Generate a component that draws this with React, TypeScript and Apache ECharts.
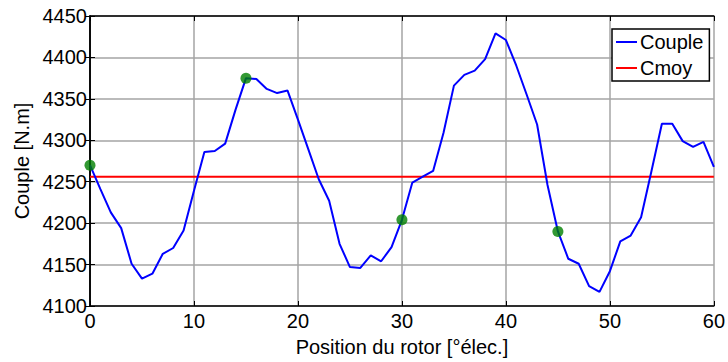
import React, { useEffect, useRef } from "react";
import * as echarts from "echarts";

const positions = [
  0, 1, 2, 3, 4, 5, 6, 7, 8, 9, 10, 11, 12, 13, 14, 15, 16, 17, 18, 19, 20,
  21, 22, 23, 24, 25, 26, 27, 28, 29, 30, 31, 32, 33, 34, 35, 36, 37, 38, 39, 40,
  41, 42, 43, 44, 45, 46, 47, 48, 49, 50, 51, 52, 53, 54, 55, 56, 57, 58, 59, 60,
];
const couple = [
  4270, 4241, 4213, 4194, 4151, 4133, 4139, 4163, 4170, 4191, 4239,
  4286, 4287, 4296, 4337, 4375, 4374, 4362, 4357, 4360, 4325,
  4289, 4253, 4227, 4175, 4147, 4146, 4161, 4154, 4171, 4204,
  4249, 4256, 4263, 4309, 4366, 4379, 4384, 4398, 4429, 4421,
  4390, 4355, 4319, 4246, 4190, 4157, 4151, 4124, 4117, 4142,
  4178, 4185, 4207, 4263, 4320, 4320, 4299, 4292, 4298, 4268,
];
const cmoyX = [0, 60];
const cmoyValue = 4256;
const markerX = [0, 15, 30, 45];
const markerY = [4270, 4375, 4204, 4190];

const FONT = "'Liberation Sans', Arial, sans-serif";

export default function App() {
  const ref = useRef<HTMLDivElement>(null);
  useEffect(() => {
    if (!ref.current) return;
    const chart = echarts.init(ref.current, undefined, { renderer: "svg" });
    const axisLine = { lineStyle: { color: "#000", width: 1.5 } };
    const tick = { show: true, inside: true, length: 5, lineStyle: { color: "#000", width: 1 } };
    const split = { show: true, lineStyle: { color: "#a4a4a4", width: 1.5 } };
    chart.setOption({
      animation: false,
      backgroundColor: "#fff",
      grid: { left: 90, right: 13, top: 16, bottom: 51, containLabel: false },
      legend: {
        orient: "vertical",
        left: 612,
        top: 29,
        padding: [3, 6, 3, 4],
        itemGap: 6,
        itemWidth: 21,
        itemHeight: 2,
        icon: "rect",
        borderColor: "#000",
        borderWidth: 1.5,
        backgroundColor: "#fff",
        data: ["Couple", "Cmoy"],
        textStyle: { fontFamily: FONT, fontSize: 20, color: "#000", padding: [0, 0, 0, -2], lineHeight: 20 },
      },
      xAxis: [
        {
          type: "value",
          min: 0,
          max: 60,
          interval: 10,
          name: "Position du rotor [°élec.]",
          nameLocation: "middle",
          nameGap: 31,
          nameTextStyle: { fontFamily: FONT, fontSize: 20, color: "#000" },
          axisLine,
          axisTick: tick,
          axisLabel: { fontFamily: FONT, fontSize: 20, color: "#000", margin: 5 },
          splitLine: split,
        },
        {
          type: "value",
          position: "top",
          min: 0,
          max: 60,
          interval: 10,
          axisLine,
          axisTick: tick,
          axisLabel: { show: false },
          splitLine: { show: false },
        },
      ],
      yAxis: [
        {
          type: "value",
          min: 4100,
          max: 4450,
          interval: 50,
          name: "Couple [N.m]",
          nameLocation: "middle",
          nameGap: 50,
          nameTextStyle: { fontFamily: FONT, fontSize: 20, color: "#000" },
          axisLine,
          axisTick: tick,
          axisLabel: { fontFamily: FONT, fontSize: 20, color: "#000", margin: 3, formatter: (v: number) => String(v) },
          splitLine: split,
        },
        {
          type: "value",
          position: "right",
          min: 4100,
          max: 4450,
          interval: 50,
          axisLine,
          axisTick: tick,
          axisLabel: { show: false },
          splitLine: { show: false },
        },
      ],
      series: [
        {
          name: "Couple",
          type: "line",
          data: positions.map((x, i) => [x, couple[i]]),
          symbol: "none",
          color: "#0000ff",
          lineStyle: { color: "#0000ff", width: 2 },
          z: 3,
        },
        {
          name: "Cmoy",
          type: "line",
          data: cmoyX.map((x) => [x, cmoyValue]),
          symbol: "none",
          color: "#ff0000",
          lineStyle: { color: "#ff0000", width: 2 },
          z: 2,
        },
        {
          name: "points",
          type: "scatter",
          data: markerX.map((x, i) => [x, markerY[i]]),
          symbol: "circle",
          symbolSize: 11,
          itemStyle: { color: "#008000" },
          z: 4,
        },
      ],
    });
    return () => chart.dispose();
  }, []);
  return <div ref={ref} style={{ width: 728, height: 362, position: "absolute", left: 0, top: 0 }} />;
}
